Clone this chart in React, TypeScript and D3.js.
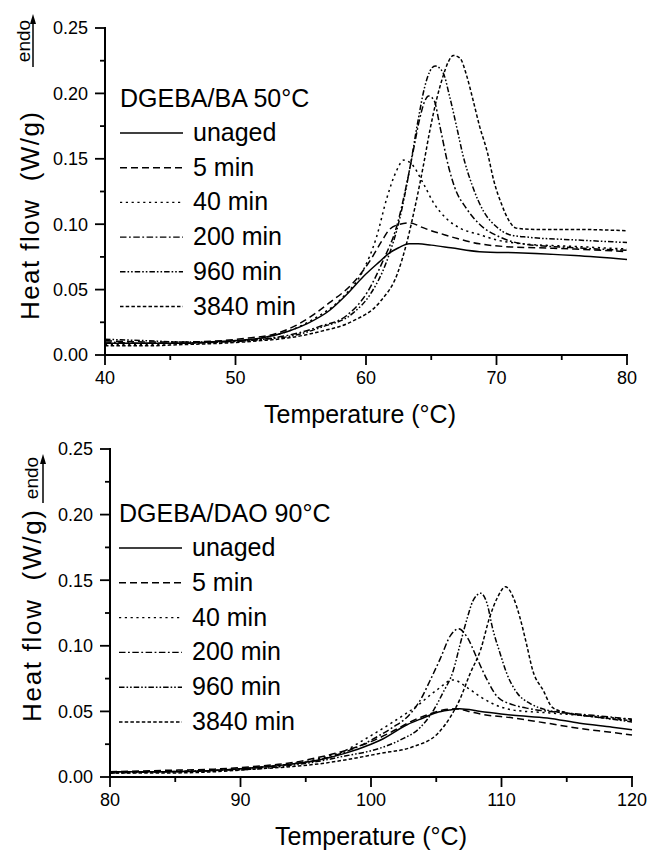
import React from 'react';
import * as d3 from 'd3';

type Pt = [number, number];

// ---------- DATA ----------
const seriesNames: string[] = ['unaged', '5 min', '40 min', '200 min', '960 min', '3840 min'];

// DGEBA/BA 50°C  (Temperature °C, Heat flow W/g)
const baUnaged: Pt[] = [[40,0.009],[42,0.009],[44,0.009],[46,0.009],[48,0.010],[50,0.011],[52,0.013],[54,0.018],[55.5,0.024],[57.2,0.034],[58.5,0.046],[59.8,0.060],[61,0.071],[61.8,0.078],[62.5,0.082],[63.3,0.085],[64,0.085],[65,0.084],[66.5,0.082],[68.7,0.079],[72,0.078],[76,0.076],[80,0.073]];
const ba5: Pt[] = [[40,0.011],[43,0.010],[46,0.010],[49,0.011],[51,0.013],[53,0.016],[54.9,0.024],[57.2,0.040],[59,0.055],[60.3,0.072],[61.2,0.087],[61.8,0.096],[62.6,0.100],[63.4,0.101],[64.2,0.098],[65,0.095],[66,0.092],[67,0.089],[68.7,0.085],[70.5,0.083],[73,0.082],[76,0.081],[80,0.079]];
const ba40: Pt[] = [[40,0.008],[43,0.008],[46,0.009],[49,0.010],[52,0.013],[54,0.018],[55.9,0.027],[58.2,0.044],[59.8,0.065],[60.8,0.090],[61.6,0.120],[62.3,0.140],[62.9,0.149],[63.5,0.146],[64.4,0.131],[65.2,0.116],[66.2,0.104],[67.2,0.097],[68.7,0.092],[70,0.088],[72,0.085],[76,0.083],[80,0.081]];
const ba200: Pt[] = [[40,0.010],[43,0.009],[46,0.009],[49,0.010],[52,0.012],[54,0.015],[56.5,0.022],[58.5,0.030],[60.1,0.048],[61.3,0.072],[62.4,0.100],[63.1,0.130],[63.6,0.155],[64.1,0.180],[64.5,0.194],[64.8,0.198],[65.2,0.195],[65.7,0.173],[66.3,0.145],[66.8,0.128],[67.7,0.112],[68.7,0.100],[70.3,0.090],[72,0.085],[76,0.082],[80,0.080]];
const ba960: Pt[] = [[40,0.012],[43,0.011],[46,0.010],[49,0.010],[52,0.012],[54,0.014],[56.5,0.021],[59,0.032],[60.3,0.046],[61.6,0.072],[62.6,0.105],[63.4,0.145],[64,0.180],[64.5,0.205],[64.9,0.217],[65.3,0.221],[65.9,0.216],[66.4,0.198],[67,0.172],[67.4,0.154],[68.2,0.128],[69,0.110],[70,0.098],[71,0.092],[72.5,0.090],[76,0.088],[80,0.086]];
const ba3840: Pt[] = [[40,0.007],[43,0.007],[46,0.008],[49,0.009],[52,0.011],[54,0.013],[56.5,0.018],[59,0.026],[61.1,0.041],[62.4,0.062],[63.1,0.085],[63.9,0.120],[64.4,0.145],[64.9,0.172],[65.4,0.195],[65.9,0.213],[66.3,0.224],[66.7,0.229],[67.2,0.227],[67.7,0.214],[68.2,0.195],[68.7,0.175],[69.3,0.155],[69.8,0.133],[70.4,0.115],[71,0.102],[71.5,0.097],[73,0.096],[76,0.096],[80,0.095]];

// DGEBA/DAO 90°C
const daoUnaged: Pt[] = [[80,0.004],[84,0.004],[88,0.005],[91,0.007],[94,0.010],[96,0.013],[98,0.018],[100,0.025],[100.7,0.028],[102.8,0.040],[104,0.045],[105,0.049],[106,0.051],[106.8,0.052],[108.4,0.050],[110.9,0.047],[113.5,0.045],[116,0.041],[118.5,0.038],[120,0.036]];
const dao5: Pt[] = [[80,0.004],[84,0.005],[88,0.006],[91,0.008],[94,0.011],[96,0.015],[98,0.020],[100,0.027],[101.5,0.034],[103,0.042],[104.5,0.048],[105.5,0.051],[106.5,0.052],[107.5,0.050],[108.4,0.048],[110.9,0.045],[113.5,0.041],[116,0.037],[118.5,0.034],[120,0.032]];
const dao40: Pt[] = [[80,0.003],[84,0.004],[88,0.005],[91,0.007],[94,0.010],[96,0.014],[98,0.020],[99.4,0.028],[101.7,0.042],[103.5,0.054],[105,0.066],[106.3,0.074],[107.4,0.068],[108.4,0.061],[109.3,0.056],[110.9,0.051],[113.5,0.049],[116,0.047],[120,0.044]];
const dao200: Pt[] = [[80,0.004],[84,0.004],[88,0.005],[91,0.007],[94,0.010],[96,0.013],[98,0.019],[100,0.028],[100.7,0.032],[101.7,0.038],[102.8,0.046],[103.8,0.059],[104.5,0.073],[105.3,0.090],[106.1,0.108],[106.7,0.113],[107.4,0.106],[108.1,0.091],[108.9,0.074],[109.7,0.061],[110.9,0.055],[112.2,0.052],[114.7,0.049],[117,0.047],[120,0.044]];
const dao960: Pt[] = [[80,0.003],[84,0.004],[88,0.005],[91,0.006],[94,0.009],[96,0.012],[98,0.016],[100,0.020],[100.7,0.022],[102.2,0.028],[103.8,0.038],[104.8,0.051],[105.5,0.064],[106.3,0.081],[106.8,0.100],[107.4,0.122],[107.8,0.134],[108.4,0.140],[108.9,0.132],[109.3,0.114],[109.9,0.094],[110.4,0.079],[111.2,0.064],[112.2,0.056],[113.5,0.051],[114.7,0.049],[117,0.046],[120,0.042]];
const dao3840: Pt[] = [[80,0.003],[84,0.003],[88,0.004],[91,0.006],[94,0.008],[96,0.010],[98,0.013],[100.7,0.018],[103.2,0.023],[105.1,0.033],[106.1,0.046],[106.8,0.059],[107.6,0.079],[108.4,0.097],[109.1,0.122],[109.7,0.137],[110.3,0.145],[110.9,0.137],[111.4,0.122],[111.9,0.102],[112.4,0.081],[113.2,0.066],[113.9,0.053],[115,0.049],[117,0.046],[120,0.043]];

const yTickValues: number[] = [0, 0.05, 0.10, 0.15, 0.20, 0.25];
const baXTicks: number[] = [40, 50, 60, 70, 80];
const daoXTicks: number[] = [80, 90, 100, 110, 120];

// ---------- STYLE ----------
const DASHES = ['none', '7,4', '2.2,3.6', '6.5,2.5,1.8,2.5', '5.5,2,1.6,2,1.6,2', '3.5,2.2'];
const FONT = "'Liberation Sans', Arial, Helvetica, sans-serif";

interface PanelProps {
  title: string;
  series: Pt[][];
  xDomain: [number, number];
  xTicks: number[];
  xRange: [number, number];
  yRange: [number, number];
  legendX: number;
  titleBase: number;
  row0: number;
  rowStep: number;
  yTitleX: number;
  yTitleY: number;
  yTitleLen: number;
  endoX: number;
  endoY: number;
  arrowX: number;
  arrowY1: number;
  arrowY2: number;
  xTitleX: number;
}

function Panel(p: PanelProps) {
  const x = d3.scaleLinear().domain(p.xDomain).range(p.xRange);
  const y = d3.scaleLinear().domain([0, 0.25]).range(p.yRange);
  const line = d3.line<Pt>().x(d => x(d[0])).y(d => y(d[1])).curve(d3.curveMonotoneX);
  const x0 = p.xRange[0];
  const y0 = p.yRange[0];
  const yMinor = d3.range(0, 0.2501, 0.025);
  const step = (p.xDomain[1] - p.xDomain[0]) / 8;
  const xMinor = d3.range(p.xDomain[0], p.xDomain[1] + 0.001, step);
  const fmt = d3.format('.2f');
  return (
    <g>
      {p.series.map((s, i) => (
        <path key={i} d={line(s) || ''} fill="none" stroke="#000" strokeWidth={1.5}
          strokeDasharray={DASHES[i]} />
      ))}
      <line x1={x0} x2={x0} y1={p.yRange[1] - 1} y2={y0 + 1} stroke="#000" strokeWidth={2} />
      {yMinor.map((v, i) => {
        const major = i % 2 === 0;
        return <line key={'ym' + i} x1={x0 - (major ? 10 : 5)} x2={x0} y1={y(v)} y2={y(v)} stroke="#000" strokeWidth={1.8} />;
      })}
      {yTickValues.map(v => (
        <text key={'yl' + v} x={x0 - 17} y={y(v)} dy="0.36em" textAnchor="end" fontSize={18} fontFamily={FONT}>{fmt(v)}</text>
      ))}
      <line x1={x0 - 1} x2={p.xRange[1] + 1} y1={y0} y2={y0} stroke="#000" strokeWidth={2} />
      {xMinor.map((v, i) => {
        const major = i % 2 === 0;
        return <line key={'xm' + i} x1={x(v)} x2={x(v)} y1={y0} y2={y0 + (major ? 10 : 5)} stroke="#000" strokeWidth={1.8} />;
      })}
      {p.xTicks.map(v => (
        <text key={'xl' + v} x={x(v)} y={y0 + 29} textAnchor="middle" fontSize={18} fontFamily={FONT}>{v}</text>
      ))}
      <text x={p.xTitleX} y={y0 + 68} textAnchor="middle" fontSize={25} fontFamily={FONT}>Temperature (°C)</text>
      <text transform={`translate(${p.yTitleX},${p.yTitleY}) rotate(-90)`} textAnchor="middle" fontSize={26}
        fontFamily={FONT} textLength={p.yTitleLen}>{'Heat flow\u00a0\u00a0(W/g)'}</text>
      <text transform={`translate(${p.endoX},${p.endoY}) rotate(-90)`} textAnchor="middle" fontSize={19} fontFamily={FONT}>endo</text>
      <line x1={p.arrowX} x2={p.arrowX} y1={p.arrowY1} y2={p.arrowY2 + 8} stroke="#000" strokeWidth={1.5} />
      <path d={`M${p.arrowX},${p.arrowY2} L${p.arrowX - 3},${p.arrowY2 + 10} L${p.arrowX + 3},${p.arrowY2 + 10} Z`} fill="#000" />
      <text x={p.legendX} y={p.titleBase} fontSize={25} fontFamily={FONT}>{p.title}</text>
      {seriesNames.map((n, i) => {
        const by = p.row0 + i * p.rowStep;
        return (
          <g key={'lg' + i}>
            <line x1={p.legendX} x2={p.legendX + 63} y1={by - 8} y2={by - 8} stroke="#000" strokeWidth={1.4} strokeDasharray={DASHES[i]} />
            <text x={p.legendX + 73} y={by} fontSize={25} fontFamily={FONT}>{n}</text>
          </g>
        );
      })}
    </g>
  );
}

export default function App() {
  return (
    <svg width={650} height={851} viewBox="0 0 650 851"
      style={{ position: 'absolute', left: 0, top: 0, background: '#fff' }}>
      <rect width={650} height={851} fill="#fff" />
      <Panel title="DGEBA/BA 50°C" series={[baUnaged, ba5, ba40, ba200, ba960, ba3840]}
        xDomain={[40, 80]} xTicks={baXTicks} xRange={[105, 627]} yRange={[355, 28]}
        legendX={120} titleBase={107} row0={141} rowStep={34.7}
        yTitleX={39} yTitleY={216} yTitleLen={208}
        endoX={30} endoY={41} arrowX={33} arrowY1={67} arrowY2={14} xTitleX={360} />
      <Panel title="DGEBA/DAO 90°C" series={[daoUnaged, dao5, dao40, dao200, dao960, dao3840]}
        xDomain={[80, 120]} xTicks={daoXTicks} xRange={[110, 632]} yRange={[777, 449]}
        legendX={119} titleBase={522} row0={556} rowStep={34.8}
        yTitleX={41} yTitleY={616} yTitleLen={212}
        endoX={38} endoY={478} arrowX={43} arrowY1={503} arrowY2={454} xTitleX={371} />
    </svg>
  );
}
